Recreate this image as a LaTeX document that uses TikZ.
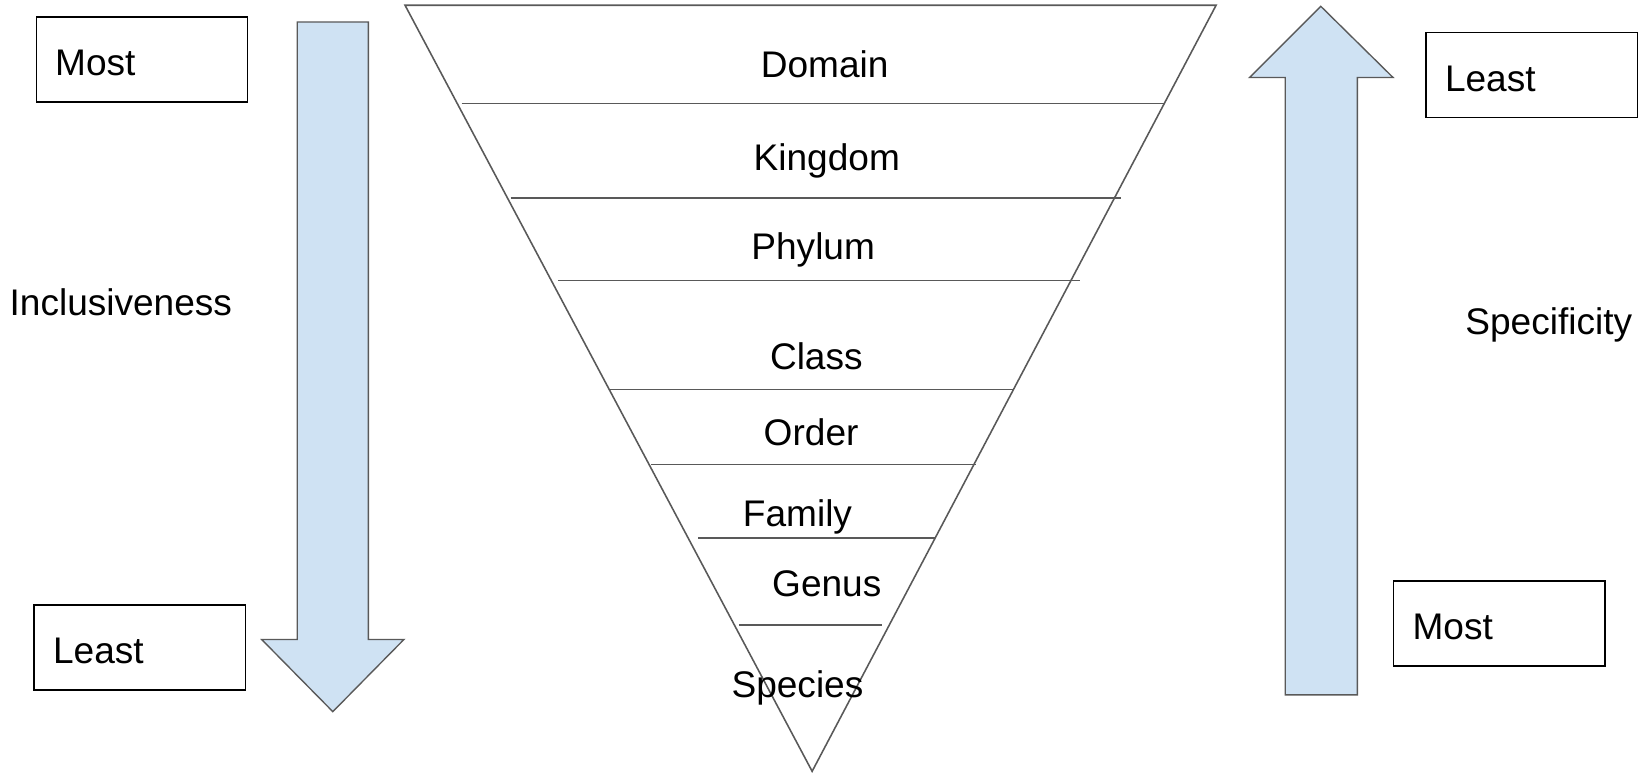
\documentclass[tikz,border=0pt]{standalone}
\usepackage{fontspec}
\setmainfont{Liberation Sans}
\usetikzlibrary{positioning,calc}
\definecolor{arrowblue}{RGB}{207,226,243}
\definecolor{edgegray}{RGB}{89,89,89}
\tikzset{
  box/.style={draw=black, line width=1.4pt, text width=166pt, inner xsep=18pt,
    inner ysep=0pt, minimum height=81pt, text height=31pt, text depth=0pt,
    align=left, anchor=south west},
  rank/.style={anchor=base, inner sep=0pt},
  side/.style={anchor=base west, inner sep=0pt},
  bigarrow/.style={draw=edgegray, fill=arrowblue, line width=1.3pt},
  layer/.style={draw=edgegray, line width=1.5pt},
}

\begin{document}
\begin{tikzpicture}[x=1pt, y=1pt, font=\fontsize{35.4}{42}\selectfont]
   \useasboundingbox (0,0) rectangle (1568,738);

   % left side: inclusiveness
   \draw[bigarrow] (284,717) -- (352,717) -- (352,127) -- (386,127)
      -- (318,58) -- (250,127) -- (284,127) -- cycle;
   \node[box] (l0) at (34,640) {Most};
   \node[box] (l1) at (32,78)  {Least};
   \node[side] (s0) at (9,436.5) {Inclusiveness};

   % inverted triangle
   \coordinate (t0) at (387,733);
   \coordinate (t1) at (1162,733);
   \coordinate (t2) at (776,1);
   \draw[layer] (t0) -- (t1) -- (t2) -- cycle;

   % rank dividers
   \draw[layer] (441,639) -- (1113,639);
   \draw[layer] (488,549) -- (1071,549);
   \draw[layer] (533,470) -- (1032,470);
   \draw[layer] (582,366) -- (968,366);
   \draw[layer] (622,294) -- (933,294);
   \draw[layer] (667,224) -- (893,224);
   \draw[layer] (706,141) -- (843,141);

   % rank labels
   \node[rank] (k0) at (788,663.5) {Domain};
   \node[rank] (k1) at (790,575.5) {Kingdom};
   \node[rank] (k2) at (777,490.5) {Phylum};
   \node[rank] (k3) at (780,384.5) {Class};
   \node[rank] (k4) at (775,312.5) {Order};
   \node[rank] (k5) at (762,234.5) {Family};
   \node[rank] (k6) at (790,168.5) {Genus};
   \node[rank] (k7) at (762,71.5)  {Species};

   % right side: specificity
   \draw[bigarrow] (1228,74) -- (1297,74) -- (1297,664) -- (1331,664)
      -- (1262,732) -- (1194,664) -- (1228,664) -- cycle;
   \node[box] (r0) at (1362,625) {Least};
   \node[box] (r1) at (1331,101) {Most};
   \node[side] (s1) at (1400,418.5) {Specificity};
\end{tikzpicture}
\end{document}
